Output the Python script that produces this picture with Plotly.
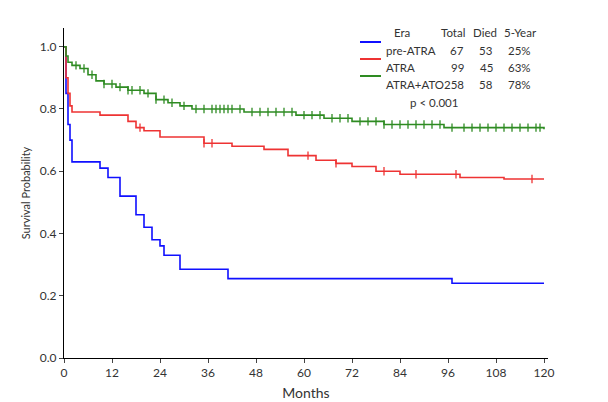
import plotly.graph_objects as go

# Kaplan-Meier step data (months, survival)
pre_t = [0, 0.5, 1, 1.5, 2, 9, 11, 14, 18, 20, 22, 24, 25, 29, 41, 97, 120]
pre_s = [1.0, 0.85, 0.75, 0.70, 0.63, 0.61, 0.58, 0.52, 0.46, 0.42, 0.38, 0.36, 0.33, 0.285, 0.255, 0.24, 0.24]
pre_c = []

atra_t = [0, 0.5, 1, 1.5, 2, 9, 16, 18, 20, 24, 35, 42, 50, 56, 63, 68, 72, 78, 84, 99, 110, 120]
atra_s = [1.0, 0.9, 0.85, 0.81, 0.79, 0.78, 0.76, 0.74, 0.73, 0.71, 0.69, 0.68, 0.67, 0.65, 0.635, 0.625, 0.615, 0.60, 0.59, 0.58, 0.575, 0.575]
atra_c = [19, 35, 37, 61, 68, 80, 88, 98, 117]

combo_t = [0, 0.5, 1, 2, 4, 6, 8, 10, 13, 16, 20, 23, 26, 29, 32, 45, 58, 65, 72, 80, 95, 120]
combo_s = [1.0, 0.97, 0.95, 0.94, 0.93, 0.91, 0.89, 0.88, 0.87, 0.86, 0.85, 0.83, 0.82, 0.81, 0.80, 0.79, 0.78, 0.77, 0.76, 0.75, 0.74, 0.735]
combo_c = [3, 5, 7, 10, 12, 14, 16, 17, 19, 21, 23, 25, 27, 30, 33, 35, 37, 38, 39, 40, 41, 42, 44, 47, 49, 51, 53, 55, 57, 60, 62, 64, 67, 69, 71, 74, 76, 78, 80, 82, 84, 86, 88, 90, 92, 94, 97, 100, 102, 104, 106, 108, 110, 112, 114, 116, 118, 119]

def step_val(ts, ss, x):
    v = ss[0]
    for t, s in zip(ts, ss):
        if t <= x:
            v = s
    return v

fig = go.Figure()
series = [("pre-ATRA", pre_t, pre_s, pre_c, "#1010ff"),
          ("ATRA", atra_t, atra_s, atra_c, "#ee3333"),
          ("ATRA+ATO", combo_t, combo_s, combo_c, "#2e8b22")]
for name, t, s, c, col in series:
    fig.add_trace(go.Scatter(x=t, y=s, mode="lines", line=dict(color=col, width=1.6, shape="hv"),
                             name=name, showlegend=False))
    if c:
        fig.add_trace(go.Scatter(x=c, y=[step_val(t, s, x) for x in c], mode="markers",
                                 marker=dict(symbol="line-ns-open", size=6, color=col, line=dict(width=1.3, color=col)),
                                 showlegend=False))

fig.update_layout(
    width=608, height=402, paper_bgcolor="white", plot_bgcolor="white",
    margin=dict(l=56, r=68, t=20, b=52),
    font=dict(family="Lato, Open Sans, sans-serif", size=12, color="#333"),
    xaxis=dict(range=[0, 121], tickvals=list(range(0, 121, 12)), showline=True, linecolor="black",
               ticks="outside", ticklen=4, showgrid=False, zeroline=False, automargin=False,
               title=dict(text="Months", standoff=8)),
    yaxis=dict(range=[0, 1.06], tickvals=[0, 0.2, 0.4, 0.6, 0.8, 1.0], tickformat=".1f", showline=True,
               linecolor="black", ticks="outside", ticklen=4, showgrid=False, zeroline=False, automargin=False,
               title=dict(text="Survival Probability", font=dict(size=11), standoff=6)),
)

def px(x):
    return (x - 56) / 484

def py(y):
    return (350 - y) / 330

rows = [("Era", "Total", "Died", "5-Year", None, 16),
        ("pre-ATRA", "67", "53", "25%", "#1010ff", 34),
        ("ATRA", "99", "45", "63%", "#ee3333", 51),
        ("ATRA+ATO", "258", "58", "78%", "#2e8b22", 68)]
for i, (era, tot, died, five, col, ypx) in enumerate(rows):
    y = py(ypx)
    fs = dict(size=11.5)
    fig.add_annotation(x=px(384 if i == 0 else 376), xref="paper", y=y, yref="paper", text=era,
                       showarrow=False, xanchor="left", font=fs)
    fig.add_annotation(x=px(459 if i == 0 else 458), xref="paper", y=y, yref="paper", text=tot,
                       showarrow=False, xanchor="right", font=fs)
    fig.add_annotation(x=px(491 if i == 0 else 487), xref="paper", y=y, yref="paper", text=died,
                       showarrow=False, xanchor="right", font=fs)
    fig.add_annotation(x=px(531 if i == 0 else 525), xref="paper", y=y, yref="paper", text=five,
                       showarrow=False, xanchor="right", font=fs)
    if col:
        fig.add_shape(type="line", xref="paper", yref="paper", x0=px(352), x1=px(373), y0=y, y1=y,
                      line=dict(color=col, width=2))
fig.add_annotation(x=px(400), xref="paper", y=py(86), yref="paper", text="p < 0.001",
                   showarrow=False, xanchor="left", font=dict(size=11.5))

fig.write_html("out.html")
